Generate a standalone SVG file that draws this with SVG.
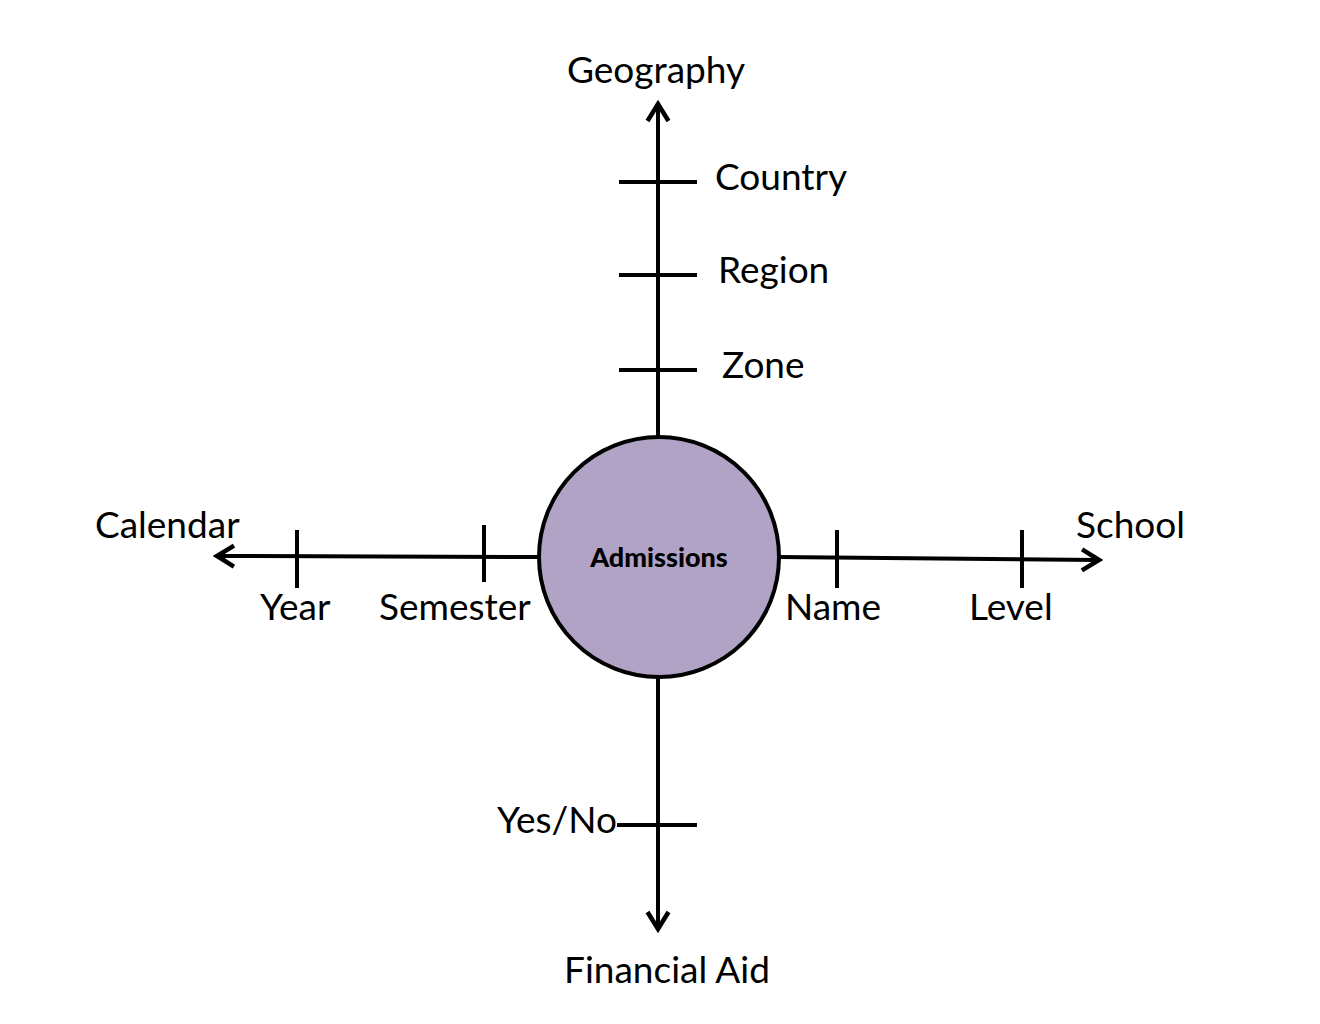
<svg xmlns="http://www.w3.org/2000/svg" width="1320" height="1024" viewBox="0 0 1320 1024">
<style>
.lbl{font-family:Lato,"Open Sans","Liberation Sans",sans-serif;font-size:37px;fill:#000}
.ax{stroke:#000;stroke-width:4;fill:none}
.tk{stroke:#000;stroke-width:4}
</style>
<defs>
<marker id="arr" viewBox="0 0 26 26" refX="22" refY="13" markerWidth="26" markerHeight="26" markerUnits="userSpaceOnUse" orient="auto">
<path d="M5,2.5 L22,13 L5,23.5" fill="none" stroke="#000" stroke-width="4.5"/>
</marker>
</defs>
<rect width="1320" height="1024" fill="#fff"/>
<g id="connectors">
<line class="ax" x1="658" y1="437" x2="658" y2="104" marker-end="url(#arr)"/>
<line class="ax" x1="540" y1="557" x2="217" y2="556" marker-end="url(#arr)"/>
<line class="ax" x1="778" y1="557" x2="1099" y2="560" marker-end="url(#arr)"/>
<line class="ax" x1="658" y1="677" x2="658" y2="929" marker-end="url(#arr)"/>
<line class="tk" x1="619" y1="182" x2="697" y2="182"/>
<line class="tk" x1="619" y1="275" x2="697" y2="275"/>
<line class="tk" x1="619" y1="370" x2="697" y2="370"/>
<line class="tk" x1="297" y1="530" x2="297" y2="588"/>
<line class="tk" x1="484" y1="525" x2="484" y2="582"/>
<line class="tk" x1="837" y1="530" x2="837" y2="588"/>
<line class="tk" x1="1022" y1="530" x2="1022" y2="588"/>
<line class="tk" x1="617" y1="825" x2="697" y2="825"/>
</g>
<g id="admissions">
<circle cx="659" cy="557" r="120" fill="#b1a3c5" stroke="#000" stroke-width="4"/>
<text x="659" y="567" text-anchor="middle" font-family="Lato,'Open Sans','Liberation Sans',sans-serif" font-size="27" font-weight="900">Admissions</text>
</g>
<g id="geography"><text class="lbl" x="656" y="83" text-anchor="middle">Geography</text></g>
<g id="country"><text class="lbl" x="715" y="190">Country</text></g>
<g id="region"><text class="lbl" x="718" y="283">Region</text></g>
<g id="zone"><text class="lbl" x="722" y="378">Zone</text></g>
<g id="calendar"><text class="lbl" x="95" y="538">Calendar</text></g>
<g id="year"><text class="lbl" x="260" y="620">Year</text></g>
<g id="semester"><text class="lbl" x="379" y="620">Semester</text></g>
<g id="school"><text class="lbl" x="1076" y="538">School</text></g>
<g id="name"><text class="lbl" x="785" y="620">Name</text></g>
<g id="level"><text class="lbl" x="969" y="620">Level</text></g>
<g id="yesno"><text class="lbl" x="617" y="833" text-anchor="end">Yes/No</text></g>
<g id="financial-aid"><text class="lbl" x="667" y="983" text-anchor="middle">Financial Aid</text></g>
</svg>
